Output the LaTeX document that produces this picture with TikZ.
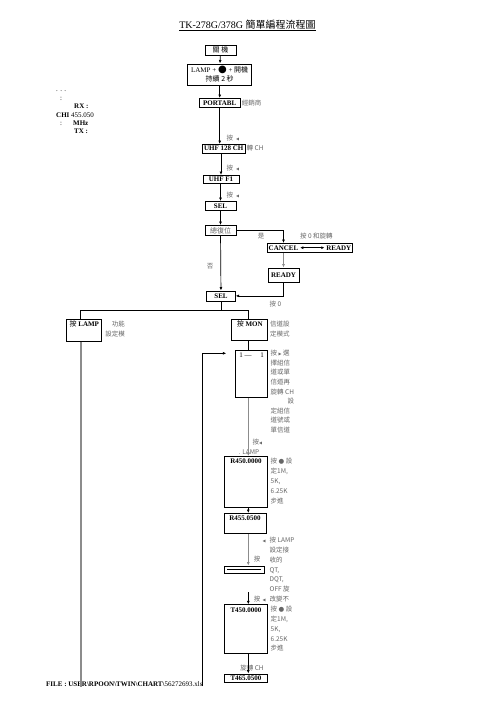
\documentclass[tikz,border=0pt]{standalone}
\usepackage{fontspec}
\setmainfont{Liberation Serif}
\newfontfamily\zhfont{Noto Sans CJK TC}
\newfontfamily\glyphfont{DejaVu Sans}
\usetikzlibrary{arrows.meta,positioning}

\newcommand{\lefttri}{{\glyphfont\scalebox{0.6}{◀}}}
\newcommand{\righttri}{{\glyphfont\scalebox{0.6}{▶}}}
\newcommand{\blackdot}{{\glyphfont ●}}

\begin{document}
\begin{tikzpicture}[
  x=1pt, y=-1pt,
  box/.style={draw, line width=0.8pt, inner sep=1pt, align=center, anchor=north, font=\bfseries\fontsize{7}{8}\selectfont},
  tall/.style={text height=6pt, text depth=#1, inner ysep=1.5pt},
  note/.style={inner sep=0pt, align=left, text=black!60, font=\zhfont\fontsize{6.5}{9.7}\selectfont},
  arrow/.style={-{Latex[length=3.5pt,width=3pt]}, line width=0.7pt},
  grayarrow/.style={arrow, draw=black!45, line width=1.1pt},
  link/.style={line width=0.7pt},
  grayline/.style={link, draw=black!45, line width=1.1pt}
]
\useasboundingbox (0,0) rectangle (496,702);

\node[font=\fontsize{10}{12}\selectfont] (title) at (247.5,25.5) {\underline{TK-278G/378G {\zhfont 簡單編程流程圖}}};

% power-on sequence
\node[box, minimum width=31pt, minimum height=9.5pt, font=\zhfont\fontsize{7}{8}\selectfont] (off) at (220.5,45) {關\ 機};
\node[box, minimum width=64pt, minimum height=21pt, font=\fontsize{7}{9}\selectfont] (power) at (219.7,63.5) {LAMP + {\glyphfont\fontsize{10}{10}\selectfont ●} + {\zhfont 開機}\\{\zhfont 持續 2 秒}};
\node[box, minimum width=41pt, minimum height=9pt] (portabl) at (219.7,98) {PORTABL};
\node[note, right=1pt of portabl] (dealer) {經銷商};

\node[anchor=north west, inner sep=0pt, align=left, font=\fontsize{7}{8.4}\selectfont] (chinfo) at (56,91) {. . .\\\hspace*{4pt}:\\\hspace*{18pt}\textbf{RX :}\\\textbf{CHI} 455.050\\\hspace*{4pt}:\hspace{11pt}\textbf{MHz}\\\hspace*{18pt}\textbf{TX :}};

\node[box, minimum width=42.5pt, minimum height=8.5pt] (ch128) at (223.8,144) {UHF 128 CH};
\node[box, minimum width=36pt, minimum height=8pt] (uhff1) at (221,175) {UHF F1};
\node[box, minimum width=31pt, minimum height=9pt] (sel) at (220.5,201) {SEL};
\node[box, minimum width=31pt, minimum height=10pt, font=\zhfont\fontsize{7}{8}\selectfont, text=black!60] (reset) at (220.5,225) {總復位};

\node[note, anchor=west] (keyhf) at (226.5,138) {按\ \ \lefttri};
\node[note, anchor=west] (rotch) at (246.5,148) {轉 CH};
\node[note, anchor=west] (keyf1) at (226.5,168.5) {按\ \ \lefttri};
\node[note, anchor=west] (keysel) at (226.5,195) {按\ \ \lefttri};

% reset branch
\node[box, minimum width=84pt, minimum height=9pt] (cancel) at (310,243) {CANCEL \tikz[baseline=-2.5pt]\draw[{Latex[length=3pt,width=3pt]}-{Latex[length=3pt,width=3pt]}, line width=0.6pt] (0pt,0pt) -- (24pt,0pt); READY};
\node[box, minimum width=31pt, minimum height=14pt] (ready) at (283.5,267.5) {READY};
\node[box, minimum width=28.5pt, minimum height=10pt] (sel2) at (221,290.5) {SEL};

\node[note] (yes) at (261,236.5) {是};
\node[note, anchor=west] (rotzero) at (300,236) {按 0 和旋轉};
\node[note] (no) at (210,266) {否};
\node[note, anchor=west] (keyzero) at (269.5,304) {按 0};

% mode boxes
\node[box, tall=13pt, minimum width=35pt] (lamp) at (84.3,319) {{\zhfont\mdseries 按} LAMP};
\node[box, tall=12pt, minimum width=36pt] (mon) at (249.8,319) {{\zhfont\mdseries 按} MON};
\node[note, anchor=north east, align=right] (funcmode) at (125,321) {功能\\設定模};
\node[note, anchor=north west] (chmode) at (270,321) {信道設\\定模式};

\node[box, tall=38pt, minimum width=32pt, font=\fontsize{7}{8}\selectfont] (group) at (251.7,350) {1 —\hspace{7pt} 1};
\node[note, anchor=north west, font=\zhfont\fontsize{6.5}{9.6}\selectfont] (groupnote) at (270.5,350) {按 \righttri\ 選\\擇組信\\道或單\\信道再\\旋轉 CH\\\hspace*{17pt}設\\定組信\\道號或\\單信道};

\node[box, tall=42pt, minimum width=43.5pt] (r450) at (246,456) {R450.0000};
\node[note, anchor=west] (keylamp) at (252.5,441.7) {按\lefttri};
\node[note, anchor=west] (lampdot) at (238.5,451.7) {. LAMP};
\node[note, anchor=north west, font=\zhfont\fontsize{6.5}{10}\selectfont] (rxstep) at (270.5,457.7) {按 \blackdot\ 設\\定1M,\\5K,\\6.25K\\步進};

\node[box, tall=11pt, minimum width=42pt] (r455) at (245,513) {R455.0500};
\node[box, minimum width=40pt, minimum height=7.5pt, inner sep=0pt, font=\fontsize{7}{7}\selectfont] (tone) at (244.2,565.5) {\rule[1.5pt]{34pt}{0.5pt}};
\node[note, anchor=north west, font=\zhfont\fontsize{6.5}{9.8}\selectfont] (tonenote) at (262.5,537) {\makebox[7pt][l]{\lefttri}按 LAMP\\\hspace*{7pt}設定接\\\hspace*{7pt}收的\\\hspace*{7pt}QT,\\\hspace*{7pt}DQT,\\\hspace*{7pt}OFF 旋\\\makebox[7pt][l]{\lefttri}改變不};
\node[note] (keytone) at (257,559) {按};
\node[note] (keytx) at (257,599) {按};

\node[box, tall=40pt, minimum width=43.5pt] (t450) at (246,604.3) {T450.0000};
\node[note, anchor=north west] (txstep) at (270.5,606.3) {按 \blackdot\ 設\\定1M,\\5K,\\6.25K\\步進};
\node[note] (rotch2) at (252,668.3) {旋轉 CH};
\node[box, minimum width=43.5pt, minimum height=8.5pt] (t465) at (246,673.5) {T465.0500};

\node[anchor=west, inner sep=0pt, font=\fontsize{7}{8}\selectfont] (filename) at (46,684) {\textbf{FILE : USER\textbackslash RPOON\textbackslash TWIN\textbackslash CHART\textbackslash}56272693.xls};

% connectors
\draw[arrow] (off) -- (power);
\draw[arrow] (power) -- (portabl);
\draw[arrow] (portabl) -- (portabl |- ch128.north);
\draw[arrow] (ch128.south -| uhff1) -- (uhff1.north);
\draw[arrow] (uhff1.south -| sel) -- (sel.north);
\draw[arrow] (sel) -- (reset);
\draw[arrow] (reset.east) -| (ready |- cancel.north);
\draw[grayarrow] (cancel.south -| ready) -- (ready.north);
\draw[arrow] (ready.south) |- (sel2.east);
\draw[arrow] (reset) -- (sel2);

\coordinate (fork) at (221,310.7);
\draw[link] (sel2) -- (fork);
\draw[link] ([xshift=-3.5pt]lamp.north) |- (fork) -| ([xshift=-1.8pt]mon.north);

\coordinate (spine) at (248.3,0);
\draw[link] (mon.south -| spine) -- (group.north -| spine);
\draw[grayarrow] (group.south -| spine) -- (r450.north -| spine);
\draw[arrow] (r450.south -| spine) -- (r455.north -| spine);
\draw[grayarrow] (r455.south -| spine) -- (tone.north -| spine);
\coordinate (tonegap) at (248.3,592);
\draw[arrow] (tonegap) -- (t450.north -| spine);
\draw[arrow] (t450.south -| spine) -- (t465.north -| spine);

\coordinate (loopfoot) at (202.5,686);
\draw[arrow] (loopfoot) |- ([xshift=-9pt,yshift=-3.3pt]group.north west);
\coordinate (lampfoot) at (81,686.5);
\draw[grayline] ([xshift=-3.3pt]lamp.south) -- (lampfoot);

\end{tikzpicture}
\end{document}
